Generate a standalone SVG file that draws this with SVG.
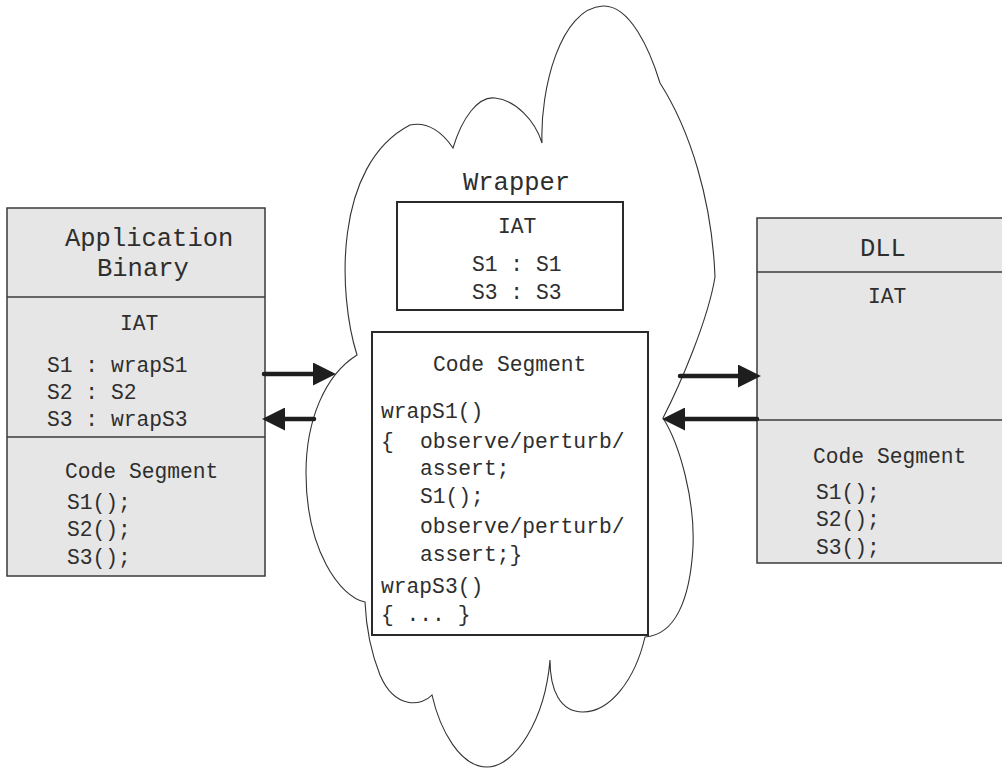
<svg xmlns="http://www.w3.org/2000/svg" width="1002" height="769" viewBox="0 0 1002 769">
<defs>
<style>
.box{fill:#e6e6e6;stroke:#3a3a3a;stroke-width:1.5}
.wbox{fill:#ffffff;stroke:#2a2a2a;stroke-width:2}
.div{stroke:#3a3a3a;stroke-width:1.5}
.cloud{fill:#ffffff;stroke:#333;stroke-width:1.1}
.t{font-family:"Liberation Mono","Courier New",monospace;font-size:21.3px;fill:#2e2e2e}
.big{font-size:25.5px}
.arr{stroke:#1e1e1e;stroke-width:4.5;stroke-linecap:round;fill:none}
</style>
<marker id="ah" markerUnits="userSpaceOnUse" markerWidth="23" markerHeight="23" viewBox="0 0 22 22" refX="1" refY="11" orient="auto">
<path d="M0,0 L22,11 L0,22 z" fill="#1e1e1e"/>
</marker>
</defs>
<rect width="1002" height="769" fill="#ffffff"/>

<g id="wrapper-cloud">
<path class="cloud" d="M357,355 C338,295 333,165 410,125 C428,121 443,133 453,148 C462,118 478,96 495,98 C515,100 535,120 542,143 C540,90 560,8 603,6 C630,5 650,50 660,83 C690,130 712,200 715,277 C708,320 680,385 663,418 C680,445 695,500 693,547 C690,600 675,635 645,637 C635,680 610,712 583,712 C560,712 550,690 550,660 C545,720 515,767 487,767 C460,767 440,730 432,695 C422,706 395,710 380,675 C370,650 366,625 365,602 C340,597 306,550 306,473 C306,420 325,375 357,355 Z"/>
<text class="t big" x="463" y="190">Wrapper</text>
</g>

<g id="wrapper-iat">
<rect class="wbox" x="397" y="202" width="226" height="108"/>
<text class="t" x="498" y="233">IAT</text>
<text class="t" x="472" y="271">S1 : S1</text>
<text class="t" x="472" y="299">S3 : S3</text>
</g>

<g id="wrapper-code">
<rect class="wbox" x="372" y="332" width="276" height="303"/>
<text class="t" x="433" y="371">Code Segment</text>
<text class="t" x="381" y="418">wrapS1()</text>
<text class="t" x="381" y="448">{</text>
<text class="t" x="420" y="448">observe/perturb/</text>
<text class="t" x="420" y="475">assert;</text>
<text class="t" x="420" y="503">S1();</text>
<text class="t" x="420" y="533">observe/perturb/</text>
<text class="t" x="420" y="561">assert;}</text>
<text class="t" x="381" y="593">wrapS3()</text>
<text class="t" x="381" y="621">{ ... }</text>
</g>

<g id="app-binary">
<rect class="box" x="7" y="208" width="258" height="368"/>
<line class="div" x1="7" y1="297" x2="265" y2="297"/>
<line class="div" x1="7" y1="437" x2="265" y2="437"/>
<text class="t big" x="65" y="246">Application</text>
<text class="t big" x="97" y="276">Binary</text>
<text class="t" x="120" y="330">IAT</text>
<text class="t" x="47" y="372">S1 : wrapS1</text>
<text class="t" x="47" y="399">S2 : S2</text>
<text class="t" x="47" y="426">S3 : wrapS3</text>
<text class="t" x="65" y="478">Code Segment</text>
<text class="t" x="67" y="509">S1();</text>
<text class="t" x="67" y="536">S2();</text>
<text class="t" x="67" y="564">S3();</text>
</g>

<g id="dll">
<rect class="box" x="757" y="218" width="260" height="345"/>
<line class="div" x1="757" y1="272" x2="1002" y2="272"/>
<line class="div" x1="757" y1="420" x2="1002" y2="420"/>
<text class="t big" x="860" y="256">DLL</text>
<text class="t" x="868" y="303">IAT</text>
<text class="t" x="813" y="463">Code Segment</text>
<text class="t" x="816" y="499">S1();</text>
<text class="t" x="816" y="526">S2();</text>
<text class="t" x="816" y="554">S3();</text>
</g>

<g id="connectors">
<line class="arr" x1="264" y1="374" x2="314" y2="374" marker-end="url(#ah)"/>
<line class="arr" x1="314" y1="419" x2="284" y2="419" marker-end="url(#ah)"/>
<line class="arr" x1="680" y1="376" x2="739" y2="376" marker-end="url(#ah)"/>
<line class="arr" x1="757" y1="419" x2="684" y2="419" marker-end="url(#ah)"/>
</g>
</svg>
